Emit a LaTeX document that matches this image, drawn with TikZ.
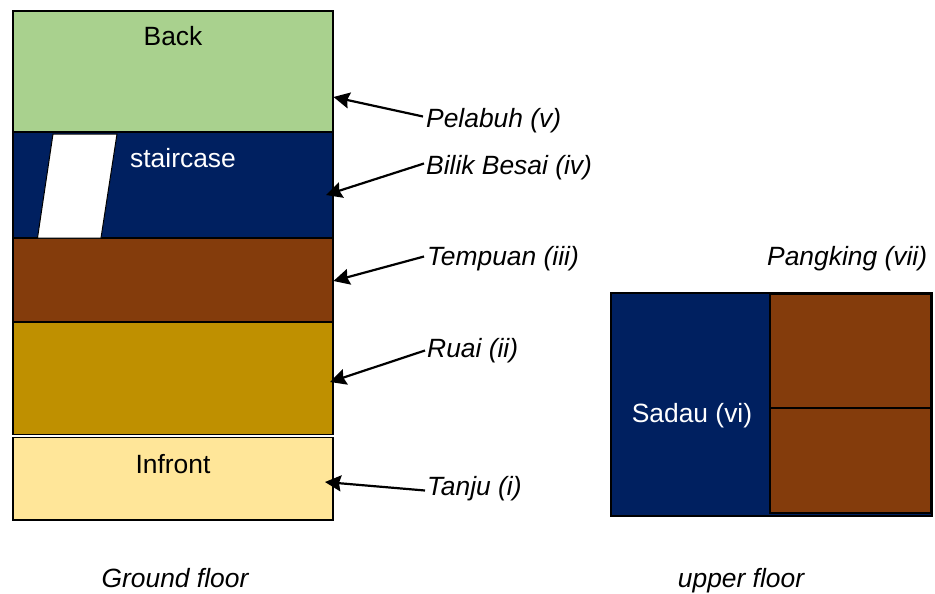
\documentclass[tikz,border=0pt]{standalone}
\usepackage{fontspec}
\setmainfont{Liberation Sans}
\usetikzlibrary{arrows.meta}
\definecolor{cgreen}{HTML}{A9D18E}
\definecolor{cnavy}{HTML}{002060}
\definecolor{cbrown}{HTML}{843C0C}
\definecolor{cgold}{HTML}{BF9000}
\definecolor{ccream}{HTML}{FFE699}
\tikzset{x=1pt,y=-1pt,
 room/.style={draw=black,line width=1.6pt,inner sep=0pt},
 lab/.style={font=\fontsize{26.4}{28}\selectfont\itshape,anchor=west,inner sep=0pt,text=black},
 plain/.style={font=\fontsize{26.4}{28}\selectfont,inner sep=0pt},
 arr/.style={draw=black,line width=2.2pt,-{Stealth[length=16pt,width=16pt,inset=2pt]}}}
\begin{document}
\begin{tikzpicture}
\useasboundingbox (0,0) rectangle (935,594);
\path[room,fill=cgreen] (13,11) rectangle (333,132);
\path[room,fill=cnavy] (13,132) rectangle (333,238);
\path[room,fill=cbrown] (13,238) rectangle (333,322);
\path[room,fill=cgold] (13,322) rectangle (333,434.5);
\path[room,line width=1.4pt,fill=ccream] (13,437.5) rectangle (333,520);
\path[draw=black,fill=white,line width=1pt] (53,134) -- (117,134) -- (101,238) -- (37.5,238) -- cycle;
\path[room,line width=1.2pt,fill=cnavy] (611,293) rectangle (932,516);
\path[room,fill=cbrown] (770,294) rectangle (931,408);
\path[room,fill=cbrown] (770,408.5) rectangle (931,513);
\node[plain] (back) at (173,36) {Back};
\node[plain,text=white] (stair) at (183,158) {staircase};
\node[plain] (infront) at (173,464) {Infront};
\node[plain,text=white] (sadau) at (692,415.5) {Sadau (vi)};
\node[lab] (pel) at (426,120.5) {Pelabuh (v)};
\node[lab] (bil) at (426,167.5) {Bilik Besai (iv)};
\node[lab] (tem) at (427,258.5) {Tempuan (iii)};
\node[lab] (rua) at (427,350.5) {Ruai (ii)};
\node[lab] (tan) at (427,488.5) {Tanju (i)};
\node[lab] (pang) at (767,258.5) {Pangking (vii)};
\node[lab,anchor=center] (gf) at (175,578) {Ground floor};
\node[lab,anchor=center] (uf) at (741,581) {upper floor};
\coordinate (p1) at (333.5,97);
\coordinate (p2) at (326,195);
\coordinate (p3) at (333.5,281);
\coordinate (p4) at (330,382);
\coordinate (p5) at (325,482);
\draw[arr] (pel.west) ++(-3,-4) -- (p1);
\draw[arr] (bil.west) ++(-2,-4) -- (p2);
\draw[arr] (tem.west) ++(-3,-2) -- (p3);
\draw[arr] (rua.west) ++(-2,0) -- (p4);
\draw[arr] (tan.west) ++(-2,2) -- (p5);
\end{tikzpicture}
\end{document}
